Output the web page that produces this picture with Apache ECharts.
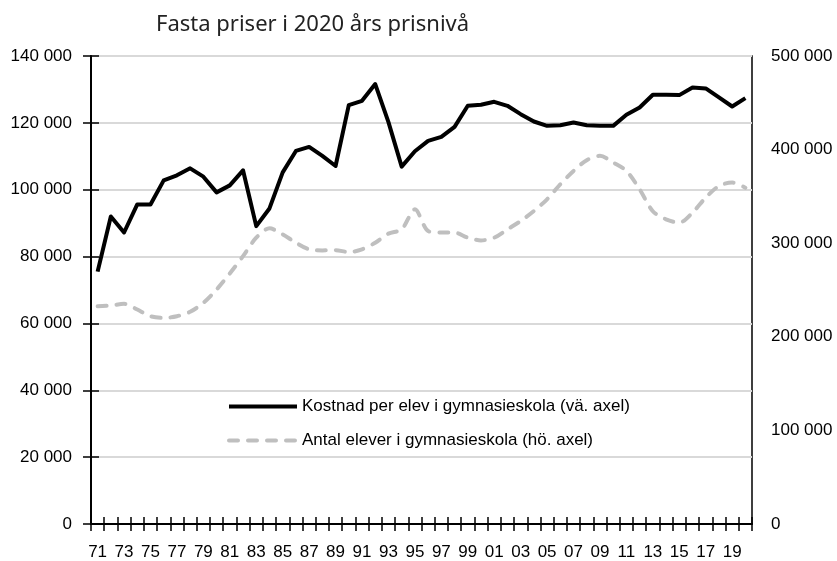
<!DOCTYPE html>
<html>
<head>
<meta charset="utf-8">
<script src="https://cdn.jsdelivr.net/npm/echarts@6/dist/echarts.min.js"></script>
<style>
  html, body { margin: 0; padding: 0; background: #fff; }
  #chart { width: 837px; height: 561px; }
</style>
</head>
<body>
<div id="chart"></div>
<script>
const years = ['71','72','73','74','75','76','77','78','79','80',
  '81','82','83','84','85','86','87','88','89','90',
  '91','92','93','94','95','96','97','98','99','00',
  '01','02','03','04','05','06','07','08','09','10',
  '11','12','13','14','15','16','17','18','19','20']

// Kostnad per elev, kr (vänster axel)
const kostnad = [75500, 92000, 87200, 95600, 95600, 102800, 104300, 106400, 103900, 99200,
  101300, 105800, 89100, 94400, 105200, 111600, 112800, 110100, 107100, 125300,
  126600, 131600, 120200, 106900, 111500, 114600, 115800, 118800, 125100, 125400,
  126300, 125100, 122600, 120400, 119100, 119300, 120100, 119300, 119100, 119100,
  122400, 124600, 128400, 128400, 128300, 130600, 130300, 127600, 124900, 127400]

// Antal elever (höger axel)
const elever = [232700, 233400, 235200, 229100, 222000, 220200, 222000, 226700, 236300, 250500,
  267700, 286200, 305900, 315900, 309400, 300500, 293400, 292300, 292600, 290500,
  293400, 300500, 310200, 314800, 336200, 313000, 311300, 311300, 305900, 303000,
  305900, 314800, 323700, 334400, 346900, 363000, 377200, 388700, 393300, 386200,
  377200, 357600, 334100, 325500, 322000, 332700, 348700, 361100, 364800, 359200]

const fmt = v => String(v).replace(/\B(?=(\d{3})+(?!\d))/g, ' ')
const labelFont = { fontFamily: '"Liberation Sans", sans-serif', color: '#000' }

const chart = echarts.init(document.getElementById('chart'))

chart.setOption({
  animation: false,
  backgroundColor: '#fff',
  title: {
    text: 'Fasta priser i 2020 års prisnivå',
    left: 151,
    top: 9,
    textStyle: { color: '#222', fontSize: 22, fontWeight: 'normal', fontFamily: '"Noto Sans", sans-serif' }
  },
  grid: {
    left: 91,
    right: 85,
    top: 56,
    bottom: 37,
    outerBoundsMode: 'none',
    show: true,
    borderColor: '#000',
    borderWidth: 1.5
  },
  legend: {
    orient: 'vertical',
    left: 222,
    top: 393,
    itemWidth: 68,
    itemHeight: 14,
    itemGap: 17,
    itemStyle: { opacity: 0 },
    lineStyle: { width: 4 },
    textStyle: { ...labelFont, fontSize: 17 },
    data: ['Kostnad per elev i gymnasieskola (vä. axel)', 'Antal elever i gymnasieskola (hö. axel)']
  },
  xAxis: [
    {
      type: 'category',
      data: years,
      boundaryGap: true,
      axisLine: { lineStyle: { color: '#000', width: 2 } },
      axisTick: { show: true, interval: 0, length: 7, lineStyle: { color: '#000', width: 1.5 } },
      axisLabel: { ...labelFont, interval: 1, margin: 20, fontSize: 17 }
    },
    {
      type: 'category',
      data: years,
      position: 'bottom',
      boundaryGap: true,
      axisLine: { show: false },
      axisTick: { show: true, inside: true, interval: 0, length: 7, lineStyle: { color: '#000', width: 1.5 } },
      axisLabel: { show: false }
    }
  ],
  yAxis: [
    {
      type: 'value',
      min: 0,
      max: 140000,
      interval: 20000,
      position: 'left',
      axisLine: { show: true, lineStyle: { color: '#000', width: 2 } },
      axisTick: { show: true, length: 8, lineStyle: { color: '#000', width: 1.5 } },
      axisLabel: { ...labelFont, margin: 19, fontSize: 17, formatter: fmt },
      splitLine: { lineStyle: { color: '#d9d9d9', width: 2 } }
    },
    {
      type: 'value',
      min: 0,
      max: 500000,
      interval: 100000,
      position: 'right',
      axisLine: { show: false },
      axisTick: { show: false },
      axisLabel: { ...labelFont, margin: 19, fontSize: 17, formatter: fmt },
      splitLine: { show: false }
    },
    {
      type: 'value',
      min: 0,
      max: 140000,
      interval: 20000,
      position: 'left',
      axisLine: { show: false },
      axisTick: { show: true, inside: true, length: 8, lineStyle: { color: '#000', width: 1.5 } },
      axisLabel: { show: false },
      splitLine: { show: false }
    }
  ],
  series: [
    {
      name: 'Kostnad per elev i gymnasieskola (vä. axel)',
      type: 'line',
      xAxisIndex: 0,
      yAxisIndex: 0,
      data: kostnad,
      symbol: 'none',
      z: 3,
      lineStyle: { color: '#000', width: 4, join: 'round' },
      itemStyle: { color: '#000' }
    },
    {
      name: 'Antal elever i gymnasieskola (hö. axel)',
      type: 'line',
      xAxisIndex: 0,
      yAxisIndex: 1,
      data: elever,
      symbol: 'none',
      smooth: 0.3,
      z: 2,
      lineStyle: { color: '#bfbfbf', width: 4, type: [9, 10], cap: 'round' },
      itemStyle: { color: '#bfbfbf' }
    }
  ]
})
</script>
</body>
</html>
